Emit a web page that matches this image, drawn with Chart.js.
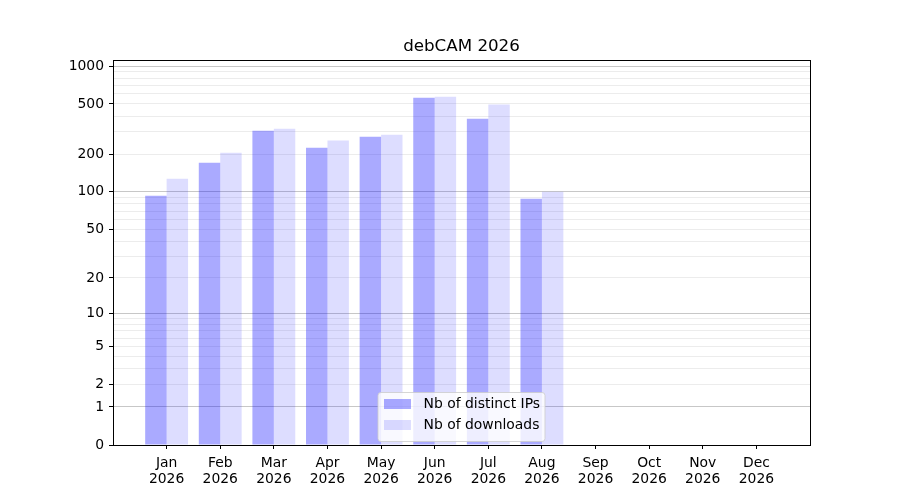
<!DOCTYPE html>
<html>
<head>
<meta charset="utf-8">
<script src="https://cdn.jsdelivr.net/npm/chart.js@4/dist/chart.umd.min.js"></script>
<style>
  html, body { margin: 0; padding: 0; background: #fff; }
  #wrap { width: 900px; height: 500px; }
</style>
</head>
<body>
<div id="wrap"><canvas id="statsChart" width="900" height="500"></canvas></div>
<script>
var months = ['Jan', 'Feb', 'Mar', 'Apr', 'May', 'Jun', 'Jul', 'Aug', 'Sep', 'Oct', 'Nov', 'Dec'];
var year = '2026';
var distinctIps = [93, 171, 307, 225, 275, 561, 382, 88, 0, 0, 0, 0];
var downloads = [127, 205, 318, 256, 285, 571, 496, 100, 0, 0, 0, 0];
var yLabelTicks = [0, 1, 2, 5, 10, 20, 50, 100, 200, 500, 1000];
var yMajorTicks = [1, 10, 100, 1000];
var yMinorTicks = [2, 3, 4, 5, 6, 7, 8, 9, 20, 30, 40, 50, 60, 70, 80, 90,
                   200, 300, 400, 500, 600, 700, 800, 900];
var yMax = 1116;

var FONT = "'DejaVu Sans', sans-serif";

// y axis scaled as log10(1 + v), so zero sits on the axis
class Log1pScale extends Chart.Scale {
    determineDataLimits() {
        this.min = this.options.min != null ? this.options.min : 0;
        this.max = this.options.max != null ? this.options.max : 1000;
    }
    buildTicks() {
        var all = [0].concat(yMajorTicks, yMinorTicks);
        all.sort(function(a, b) { return a - b; });
        return all.map(function(v) { return { value: v }; });
    }
    getLabelForValue(value) {
        return String(value);
    }
    configure() {
        super.configure();
        this._startValue = Math.log10(1 + this.min);
        this._valueRange = Math.log10(1 + this.max) - this._startValue;
    }
    getPixelForValue(value) {
        if (value === undefined || value === null || isNaN(value)) {
            value = this.min;
        }
        return this.getPixelForDecimal((Math.log10(1 + value) - this._startValue) / this._valueRange);
    }
    getValueForPixel(pixel) {
        var d = this.getDecimalForPixel(pixel);
        return Math.pow(10, this._startValue + d * this._valueRange) - 1;
    }
}
Log1pScale.id = 'log1p';
Log1pScale.defaults = {};
Chart.register(Log1pScale);

var frameAndLegend = {
    id: 'frameAndLegend',
    afterDraw: function(chart) {
        var ctx = chart.ctx;
        var area = chart.chartArea;
        ctx.save();

        // title
        ctx.fillStyle = '#000';
        ctx.font = '16.7px ' + FONT;
        ctx.textAlign = 'center';
        ctx.textBaseline = 'alphabetic';
        ctx.fillText('debCAM ' + year, (area.left + area.right) / 2, 51);

        // axes box
        ctx.strokeStyle = '#000';
        ctx.lineWidth = 1;
        ctx.strokeRect(Math.round(area.left) + 0.5, Math.round(area.top) + 0.5,
            Math.round(area.right - area.left), Math.round(area.bottom - area.top));

        // legend, lower center
        var items = chart.data.datasets;
        ctx.font = '13.9px ' + FONT;
        var textW = 0;
        items.forEach(function(ds) {
            textW = Math.max(textW, ctx.measureText(ds.label).width);
        });
        var boxW = 6 + 27 + 12.6 + textW + 5;
        var boxH = 49;
        var bx = (area.left + area.right) / 2 - boxW / 2;
        var by = area.bottom - 3.5 - boxH;
        ctx.fillStyle = 'rgba(255,255,255,0.8)';
        ctx.strokeStyle = 'rgba(204,204,204,0.8)';
        ctx.beginPath();
        ctx.roundRect(bx, by, boxW, boxH, 3);
        ctx.fill();
        ctx.stroke();
        items.forEach(function(ds, i) {
            var cy = by + 11.5 + i * 21;
            ctx.fillStyle = ds.backgroundColor;
            ctx.fillRect(bx + 6, cy - 5, 27, 10);
            ctx.fillStyle = '#000';
            ctx.textAlign = 'left';
            ctx.textBaseline = 'middle';
            ctx.fillText(ds.label, bx + 6 + 27 + 12.6, cy + 0.5);
        });
        ctx.restore();
    }
};

var ctx = document.getElementById('statsChart').getContext('2d');
var statsChart = new Chart(ctx, {
    type: 'bar',
    data: {
        datasets: [
            {
                label: 'Nb of distinct IPs',
                data: distinctIps.map(function(v, i) { return { x: i, y: v }; }),
                backgroundColor: 'rgba(0, 0, 255, 0.333)',
                borderWidth: 0
            },
            {
                label: 'Nb of downloads',
                data: downloads.map(function(v, i) { return { x: i, y: v }; }),
                backgroundColor: 'rgba(0, 0, 255, 0.133)',
                borderWidth: 0
            }
        ]
    },
    options: {
        responsive: false,
        animation: false,
        devicePixelRatio: 1,
        layout: { padding: { left: 0, right: 90, top: 60, bottom: 0 } },
        barPercentage: 1.0,
        categoryPercentage: 0.8,
        plugins: {
            legend: { display: false },
            title: { display: false },
            tooltip: { enabled: false }
        },
        scales: {
            x: {
                type: 'linear',
                min: -1,
                max: 12,
                offset: false,
                afterBuildTicks: function(scale) {
                    scale.ticks = months.map(function(m, i) { return { value: i }; });
                },
                afterFit: function(scale) { scale.height = 55; },
                grid: {
                    offset: false,
                    drawOnChartArea: false,
                    drawTicks: true,
                    tickLength: 4,
                    tickColor: '#000'
                },
                border: { display: true, color: '#000' },
                ticks: {
                    autoSkip: false,
                    maxRotation: 0,
                    padding: 6,
                    color: '#000',
                    font: { family: FONT, size: 13.9, lineHeight: 1.15 },
                    callback: function(value) {
                        return [months[value], year];
                    }
                }
            },
            y: {
                type: 'log1p',
                min: 0,
                max: yMax,
                afterFit: function(scale) { scale.width = 113; },
                grid: {
                    drawTicks: true,
                    tickLength: 4,
                    color: function(c) {
                        var v = c.tick ? c.tick.value : null;
                        if (v === 0) return 'rgba(0,0,0,0)';
                        if (yMajorTicks.indexOf(v) >= 0) return 'rgba(0,0,0,0.22)';
                        return 'rgba(0,0,0,0.075)';
                    },
                    tickColor: function(c) {
                        var v = c.tick ? c.tick.value : null;
                        return yLabelTicks.indexOf(v) >= 0 ? '#000' : 'rgba(0,0,0,0)';
                    }
                },
                border: { display: true, color: '#000' },
                ticks: {
                    autoSkip: false,
                    padding: 5,
                    color: '#000',
                    font: { family: FONT, size: 13.9 },
                    callback: function(value) {
                        return yLabelTicks.indexOf(value) >= 0 ? String(value) : '';
                    }
                }
            }
        }
    },
    plugins: [frameAndLegend]
});
</script>
</body>
</html>
